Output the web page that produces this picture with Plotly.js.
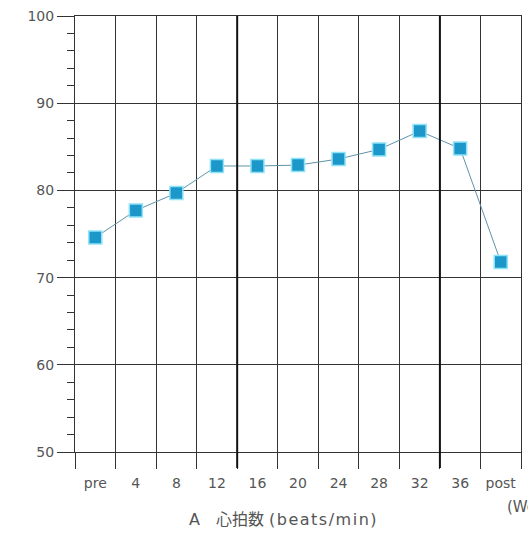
<!DOCTYPE html>
<html>
<head>
<meta charset="utf-8">
<script src="https://cdn.plot.ly/plotly-3.0.1.min.js"></script>
<style>html,body{margin:0;padding:0;background:#fff;overflow:hidden}</style>
</head>
<body>
<div id="chart" style="width:528px;height:535px"></div>
<script>
const categories = ["pre", "4", "8", "12", "16", "20", "24", "28", "32", "36", "post"];
const heartRate = [74.6, 77.7, 79.7, 82.8, 82.8, 82.9, 83.6, 84.7, 86.8, 84.8, 71.8];
const yTicks = [50, 60, 70, 80, 90, 100];
const emphasisBoundaries = [3.5, 8.5];
const titleLabel = "A";
const titleName = "心拍数";
const titleUnit = "(beats/min)";
const xUnit = "(Weeks)";

const tickFont = {family: "DejaVu Sans, sans-serif", size: 14, color: "#555"};

const trace = {
  x: categories,
  y: heartRate,
  type: "scatter",
  mode: "lines+markers",
  line: {color: "#5f93a8", width: 1},
  marker: {symbol: "square", size: 13, color: "#1b98c9",
           line: {color: "#8fe2f7", width: 1.5}},
  hoverinfo: "x+y"
};

const shapes = emphasisBoundaries.map(b => ({
  type: "line", xref: "x", yref: "paper",
  x0: b, x1: b, y0: -16 / 436, y1: 1,
  line: {color: "#111", width: 2}
}));

const titleText = titleLabel + "　" + titleName +
  ' <span style="letter-spacing:1.5px">' + titleUnit + '</span>';

const layout = {
  width: 528, height: 535,
  margin: {l: 75, r: 7, t: 16, b: 83},
  paper_bgcolor: "#fff", plot_bgcolor: "#fff",
  showlegend: false,
  xaxis: {
    type: "category",
    categoryorder: "array",
    categoryarray: categories,
    range: [-0.5, categories.length - 0.5],
    tickson: "boundaries",
    showgrid: true, gridcolor: "#333", gridwidth: 1,
    ticks: "outside", ticklen: 16, tickcolor: "#333", tickwidth: 1,
    ticklabelstandoff: 18,
    showline: true, linecolor: "#333", linewidth: 1, mirror: true,
    tickfont: tickFont,
    zeroline: false, fixedrange: true
  },
  yaxis: {
    range: [50, 100],
    tickvals: yTicks,
    ticktext: yTicks.map(String),
    showgrid: true, gridcolor: "#333", gridwidth: 1,
    ticks: "outside", ticklen: 17, tickcolor: "#333", tickwidth: 1,
    minor: {dtick: 2, ticks: "outside", ticklen: 7, tickcolor: "#333", tickwidth: 1, showgrid: false},
    showline: true, linecolor: "#333", linewidth: 1, mirror: true,
    tickfont: tickFont,
    zeroline: false, fixedrange: true
  },
  shapes: shapes,
  annotations: [
    {text: titleText, xref: "paper", yref: "paper", x: 0.467, y: -0.155,
     xanchor: "center", yanchor: "middle", showarrow: false,
     font: {family: "DejaVu Sans, Noto Sans CJK JP, sans-serif", size: 16, color: "#555"}},
    {text: xUnit, xref: "paper", yref: "paper", x: 0.965, y: -0.125,
     xanchor: "left", yanchor: "middle", showarrow: false,
     font: {family: "DejaVu Sans, sans-serif", size: 15, color: "#555"}}
  ]
};

Plotly.newPlot("chart", [trace], layout, {displayModeBar: false, staticPlot: true});
</script>
</body>
</html>
